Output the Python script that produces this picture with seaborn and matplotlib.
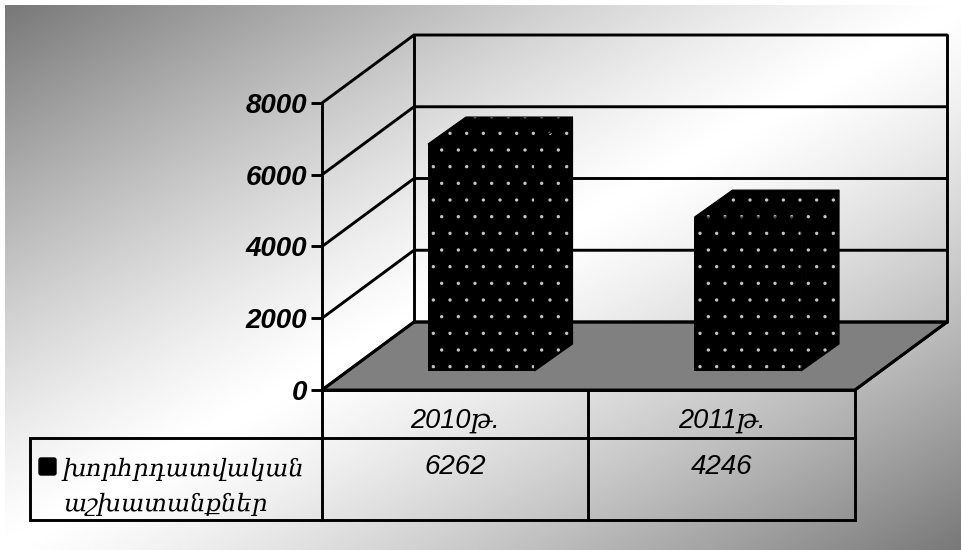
import numpy as np
import pandas as pd
import matplotlib
matplotlib.use("Agg")
import matplotlib.pyplot as plt
from matplotlib.patches import Polygon, FancyBboxPatch
import seaborn as sns

categories = ["2010թ.", "2011թ."]
values = [6262, 4246]
series_label = "խորհրդատվական\nաշխատանքներ"
y_ticks = [0, 2000, 4000, 6000, 8000]

W, H = 962, 550
sns.set_theme(style="white")
plt.rcParams["hatch.linewidth"] = 0.0
plt.rcParams["font.family"] = ["Liberation Sans", "DejaVu Sans"]
LW = 2.1

fig = plt.figure(figsize=(W / 100, H / 100), dpi=100, facecolor="white")


def make_axes(x0, y_top, x1, y_bottom, **kw):
    return fig.add_axes([x0 / W, 1 - y_bottom / H, (x1 - x0) / W, (y_bottom - y_top) / H], **kw)


# Background layer in pixel space
bg = make_axes(0, 0, W, H)
bg.axis("off")
gx, gy = np.meshgrid(np.linspace(0, 1, 480), np.linspace(0, 1, 275))
shade = 255 - 135 * np.abs(gx + gy - 1) ** 1.25
bg.imshow(shade, extent=(5, W, H, 5), cmap="gray", vmin=0, vmax=255, aspect="auto", interpolation="bilinear", zorder=0)
bg.set_xlim(0, W)
bg.set_ylim(H, 0)

FX0, FX1, FY0, FY1 = 322, 855, 390, 103   # front plane
DX, DY = 92, -68                          # depth of the box

bg.add_patch(Polygon([(FX0, FY0), (FX1, FY0), (FX1 + DX, FY0 + DY), (FX0 + DX, FY0 + DY)],
                     closed=True, facecolor="#808080", edgecolor="black", lw=LW, zorder=1))
for v in y_ticks:
    y = FY0 + (FY1 - FY0) * v / y_ticks[-1]
    bg.plot([FX0, FX0 + DX, FX1 + DX], [y, y + DY, y + DY], color="black", lw=LW, zorder=2, solid_joinstyle="miter")
bg.plot([FX0 + DX, FX0 + DX], [FY0 + DY, FY1 + DY], color="black", lw=LW, zorder=2)
bg.plot([FX1 + DX, FX1 + DX], [FY0 + DY, FY1 + DY], color="black", lw=LW, zorder=2)
bg.plot([FX1, FX1 + DX], [FY0, FY0 + DY], color="black", lw=LW, zorder=2)

# Data table lines
T1, T2, LEFT = 438, 520, 30
bg.plot([FX0, FX1, FX1, LEFT, LEFT, FX1], [FY0, FY0, T2, T2, T1, T1], color="black", lw=LW, zorder=3, solid_joinstyle="miter")
for x in (FX0, (FX0 + FX1) / 2):
    bg.plot([x, x], [FY0, T2], color="black", lw=LW, zorder=3)

bg.add_patch(FancyBboxPatch((39, 458), 17, 17, boxstyle="round,pad=0,rounding_size=2", facecolor="black", edgecolor="black", lw=1, zorder=4))
bg.text(63, 487, series_label, family=["DejaVu Serif"], style="italic", fontsize=17.6, color="black",
        ha="left", va="center", linespacing=1.65, zorder=4)

data = pd.DataFrame({"category": categories, "value": values})

# Bars in their own axes, set back inside the box
ax_bars = make_axes(FX0 + 26, 81, FX1 + 26, 371)
ax_bars.patch.set_alpha(0)
sns.barplot(data=data, x="category", y="value", ax=ax_bars, color="black", saturation=1, width=0.4,
            edgecolor="#c4c4c4", linewidth=0, hatch=".", zorder=3)
ax_bars.set_xlim(-0.5, 1.5)
ax_bars.set_ylim(0, y_ticks[-1])
ax_bars.axis("off")

overlay = make_axes(0, 0, W, H)
overlay.patch.set_alpha(0)
overlay.set_xlim(0, W)
overlay.set_ylim(H, 0)
overlay.axis("off")
fig.canvas.draw()
BX, BY = 38, -27
for p in ax_bars.patches:
    box = p.get_window_extent()
    x0, x1 = box.x0, box.x1
    ytop, ybot = H - box.y1, H - box.y0
    top = [(x0, ytop), (x1, ytop), (x1 + BX, ytop + BY), (x0 + BX, ytop + BY)]
    side = [(x1, ytop), (x1 + BX, ytop + BY), (x1 + BX, ybot + BY), (x1, ybot)]
    for pts in (top, side):
        overlay.add_patch(Polygon(pts, closed=True, facecolor="black", edgecolor="#c4c4c4", lw=0, hatch="."))
    overlay.add_patch(Polygon(top, closed=True, fill=False, edgecolor="black", lw=0.8))
    overlay.add_patch(Polygon(side, closed=True, fill=False, edgecolor="black", lw=0.8))

# Front plane: value axis and category labels
ax = make_axes(FX0, FY1, FX1, FY0)
ax.patch.set_alpha(0)
ax.set_xlim(-0.5, 1.5)
ax.set_ylim(0, y_ticks[-1])
sns.despine(ax=ax, left=False, bottom=True, top=True, right=True)
ax.spines["left"].set_linewidth(LW)
ax.spines["left"].set_color("black")
ax.set_yticks(y_ticks)
ax.set_yticklabels([str(v) for v in y_ticks], fontsize=20, fontweight="bold", fontstyle="italic", color="black")
ax.tick_params(axis="y", left=True, length=8, width=LW, pad=3, color="black")
ax.set_xticks(range(len(categories)))
ax.set_xticklabels(categories, fontsize=19.5, fontstyle="italic", color="black",
                   family=["Liberation Sans", "DejaVu Serif"])
ax.tick_params(axis="x", bottom=False, length=0, pad=13)
ax.set_xlabel("")
ax.set_ylabel("")

for i, v in enumerate(values):
    overlay.text(FX0 + (FX1 - FX0) * (i + 0.5) / 2, 467, str(v), fontsize=20, fontstyle="italic",
                 color="black", ha="center", va="center")

fig.savefig("out.png", dpi=100)
